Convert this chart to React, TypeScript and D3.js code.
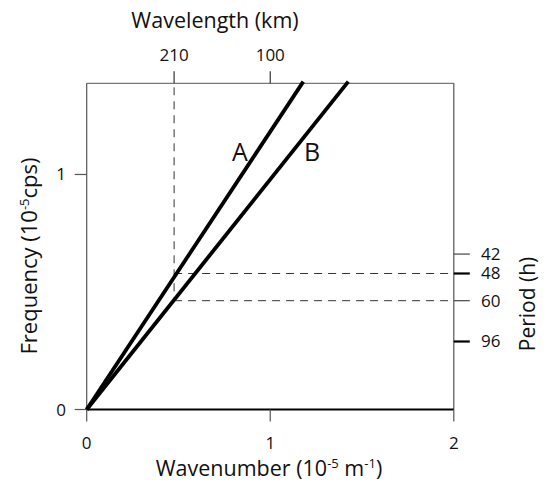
import React from "react";
import * as d3 from "d3";

// Dispersion lines: wavenumber (10^-5 m^-1) vs frequency (10^-5 cps)
const lineNames = ["A", "B"];
const lineWavenumbers = [[0, 1.18], [0, 1.425]];
const lineFrequencies = [[0, 1.395], [0, 1.395]];

// Axis ticks
const xTicks = [0, 1, 2];
const yTicks = [0, 1];
const wavelengthTicksKm = [210, 100];
const periodTicksH = [42, 48, 60, 96];
const boldPeriodTicks = [48, 96];

// Reference guides
const guideWavelengthKm = 210;
const guidePeriodsH = [48, 60];

const W = 546;
const H = 491;
const FONT = "'Open Sans', 'Noto Sans', sans-serif";

const kmToWavenumber = (km: number) => 100 / km;
const hoursToFrequency = (h: number) => 1e5 / (3600 * h);

export default function App() {
  const x = d3.scaleLinear().domain([0, 2]).range([86.7, 453.8]);
  const y = d3.scaleLinear().domain([0, 1.388]).range([409.5, 83.3]);
  const [x0, x1] = x.range();
  const [yb, yt] = y.range();

  const line = d3
    .line<[number, number]>()
    .x((d) => x(d[0]))
    .y((d) => y(d[1]));

  const guideX = x(kmToWavenumber(guideWavelengthKm));
  const lowestGuideY = y(hoursToFrequency(Math.max(...guidePeriodsH)));

  return (
    <svg
      width={W}
      height={H}
      style={{ position: "absolute", left: 0, top: 0, background: "#fff" }}
      fontFamily={FONT}
    >
      {/* frame */}
      <line x1={x0} y1={yt} x2={x1} y2={yt} stroke="#555" strokeWidth={1} />
      <line x1={x1} y1={yt} x2={x1} y2={yb} stroke="#555" strokeWidth={1.2} />
      <line x1={x0} y1={yt} x2={x0} y2={yb} stroke="#555" strokeWidth={1.2} />
      <line x1={x0} y1={yb} x2={x1} y2={yb} stroke="#000" strokeWidth={2.2} />

      {/* guides */}
      <g stroke="#333" strokeWidth={1} strokeDasharray="8,6" fill="none">
        <line x1={guideX} y1={yt + 4} x2={guideX} y2={lowestGuideY} />
        {guidePeriodsH.map((p) => (
          <line key={p} x1={guideX} y1={y(hoursToFrequency(p))} x2={x1} y2={y(hoursToFrequency(p))} />
        ))}
      </g>

      {/* bottom axis */}
      {xTicks.map((t) => (
        <g key={t}>
          <line x1={x(t)} y1={yb} x2={x(t)} y2={yb + 12} stroke="#555" strokeWidth={1.2} />
          <text x={x(t)} y={449} fontSize={17} textAnchor="middle" fill="#111">
            {t}
          </text>
        </g>
      ))}
      <text x={269} y={476} fontSize={21.5} textAnchor="middle" fill="#111">
        Wavenumber (10<tspan dy={-8} fontSize={13}>-5</tspan>
        <tspan dy={8}> m</tspan>
        <tspan dy={-8} fontSize={13}>-1</tspan>
        <tspan dy={8}>)</tspan>
      </text>

      {/* left axis */}
      {yTicks.map((t) => (
        <g key={t}>
          <line x1={x0 - 12} y1={y(t)} x2={x0} y2={y(t)} stroke="#555" strokeWidth={1.2} />
          <text x={61} y={y(t) + 6} fontSize={17} textAnchor="middle" fill="#111">
            {t}
          </text>
        </g>
      ))}
      <text
        transform={`translate(37,256) rotate(-90)`}
        fontSize={22}
        textAnchor="middle"
        fill="#111"
      >
        Frequency (10<tspan dy={-8} fontSize={13}>-5</tspan>
        <tspan dy={8}>cps)</tspan>
      </text>

      {/* top axis: wavelength */}
      {wavelengthTicksKm.map((km) => (
        <g key={km}>
          <line
            x1={x(kmToWavenumber(km))}
            y1={yt - 12}
            x2={x(kmToWavenumber(km))}
            y2={yt}
            stroke="#333"
            strokeWidth={1.2}
          />
          <text x={x(kmToWavenumber(km))} y={61} fontSize={17} textAnchor="middle" fill="#111">
            {km}
          </text>
        </g>
      ))}
      <text x={215} y={28} fontSize={21.5} textAnchor="middle" fill="#111">
        Wavelength (km)
      </text>

      {/* right axis: period */}
      {periodTicksH.map((p) => {
        const bold = boldPeriodTicks.includes(p);
        return (
          <g key={p}>
            <line
              x1={x1}
              y1={y(hoursToFrequency(p))}
              x2={x1 + 16}
              y2={y(hoursToFrequency(p))}
              stroke={bold ? "#000" : "#444"}
              strokeWidth={bold ? 2.2 : 1.2}
            />
            <text x={481} y={y(hoursToFrequency(p)) + 6} fontSize={17} fill="#111">
              {p}
            </text>
          </g>
        );
      })}
      <text
        transform={`translate(535,304) rotate(-90)`}
        fontSize={21}
        textAnchor="middle"
        fill="#111"
      >
        Period (h)
      </text>

      {/* dispersion lines */}
      {lineNames.map((name, i) => {
        const pts = lineWavenumbers[i].map((k, j) => [k, lineFrequencies[i][j]] as [number, number]);
        return (
          <path
            key={name}
            d={line(pts) ?? ""}
            fill="none"
            stroke="#000"
            strokeWidth={3.8}
          />
        );
      })}
      <text x={240} y={161} fontSize={25} textAnchor="middle" fill="#111">
        {lineNames[0]}
      </text>
      <text x={312} y={161} fontSize={25} textAnchor="middle" fill="#111">
        {lineNames[1]}
      </text>
    </svg>
  );
}
